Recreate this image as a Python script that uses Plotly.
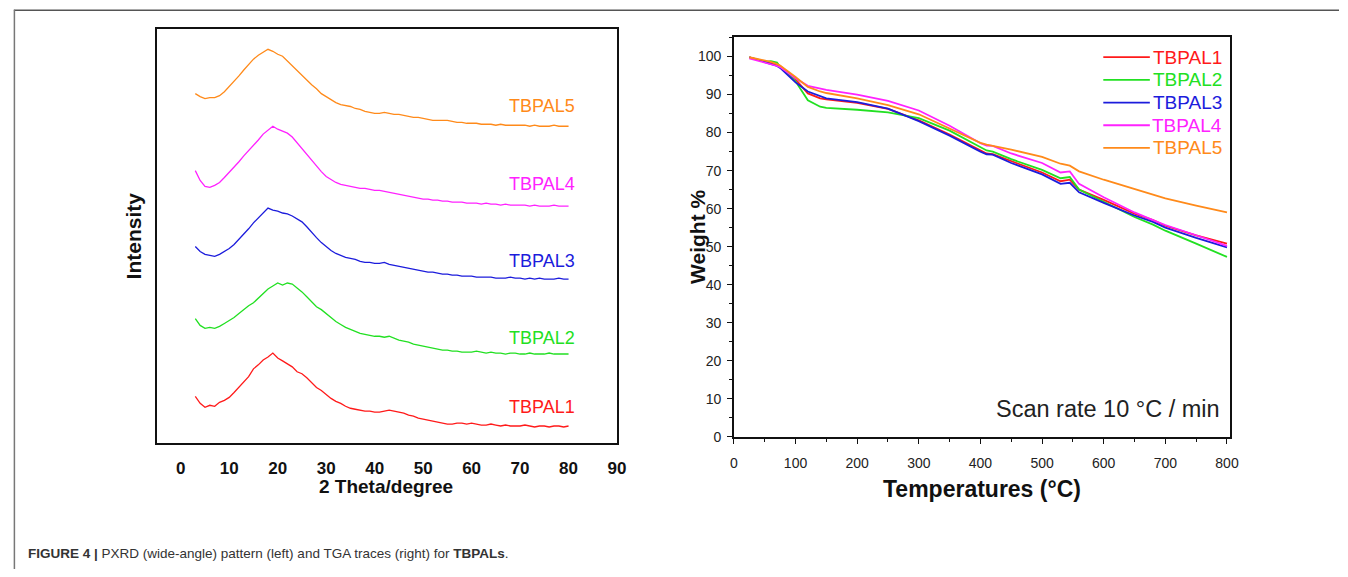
import plotly.graph_objects as go

W, H = 1348, 577
FONT = "Arial, Liberation Sans, Helvetica, sans-serif"

# ---------------- PXRD data (left) ----------------
theta = list(range(3, 81))
pxrd_names = ["TBPAL1", "TBPAL2", "TBPAL3", "TBPAL4", "TBPAL5"]
pxrd_colors = ["#ff1a1a", "#22e022", "#1c1cdc", "#ff22ff", "#ff8a1a"]
pxrd_offsets = [0, 75, 150, 225, 300]

tbpal1_int = [47,40,36,38,37,41,43,46,51,56,62,67,75,79,84,87,91,86,83,80,77,72,70,66,61,56,53,49,45,42,40,37,35,34,33,32,32,31,31,32,33,32,31,30,28,27,25,24,23,22,21,20,19,19,20,20,19,20,19,18,18,19,18,17,18,17,17,17,18,17,16,17,17,16,17,17,16,17]
tbpal2_int = [51,44,41,42,41,43,46,49,52,56,60,64,67,72,76,81,84,87,85,87,86,82,78,73,68,63,60,56,52,48,45,42,40,38,36,35,34,33,33,32,33,31,29,28,27,25,24,23,22,21,20,19,19,18,18,17,17,17,18,17,16,17,16,16,15,16,16,15,15,16,15,15,15,16,15,15,15,15]
tbpal3_int = [49,44,41,40,39,41,44,47,51,56,61,67,73,78,83,88,86,85,83,82,80,77,74,69,63,58,53,49,45,42,40,38,37,36,34,33,33,32,32,33,31,30,29,28,27,26,25,24,23,23,22,21,21,20,20,19,19,19,18,18,18,18,17,17,17,18,17,17,16,17,16,17,16,16,16,17,16,16]
tbpal4_int = [51,41,35,34,36,39,44,49,54,60,66,71,76,82,88,92,96,93,91,89,85,79,74,68,62,56,50,45,42,39,37,36,35,34,33,33,32,31,31,30,29,28,27,26,25,24,23,22,22,21,21,20,20,19,19,19,18,18,18,17,18,17,17,16,17,16,16,16,16,15,16,15,15,15,16,15,15,15]
tbpal5_int = [54,51,49,50,50,52,56,61,66,72,78,84,89,93,96,99,97,94,92,87,82,77,73,68,63,59,54,51,48,45,43,42,41,39,38,36,35,34,34,35,34,33,33,32,31,30,30,29,28,27,27,27,27,26,25,25,24,24,24,23,23,23,22,23,22,22,22,22,22,21,22,21,21,21,22,21,21,21]
pxrd_series = [tbpal1_int, tbpal2_int, tbpal3_int, tbpal4_int, tbpal5_int]
pxrd_label_lift = [36, 31, 34, 37, 42]

# ---------------- TGA data (right) ----------------
tga_temp = [25, 50, 60, 70, 75, 100, 120, 140, 150, 200, 250, 300, 350, 400, 410, 420,
            450, 500, 530, 545, 560, 600, 650, 680, 700, 750, 800]
tga_tbpal1 = [99.8, 98.8, 98.3, 97.8, 97.5, 94.0, 90.3, 89.0, 88.7, 87.8, 86.2, 83.2, 79.5, 75.3, 74.5, 74.3,
              72.5, 69.5, 67.2, 67.6, 65.0, 62.3, 58.7, 57.0, 55.5, 53.0, 50.8]
tga_tbpal2 = [99.8, 98.6, 98.8, 98.4, 97.3, 93.5, 88.5, 86.8, 86.5, 86.0, 85.3, 83.8, 80.5, 76.2, 75.3, 75.0,
              73.0, 70.2, 68.0, 68.3, 65.0, 61.8, 57.8, 55.8, 54.2, 50.8, 47.3]
tga_tbpal3 = [99.8, 98.6, 98.0, 97.5, 97.0, 93.2, 90.8, 89.5, 89.0, 88.0, 86.3, 83.0, 79.2, 75.0, 74.3, 74.2,
              72.0, 69.0, 66.5, 66.8, 64.3, 61.5, 58.2, 56.5, 55.0, 52.3, 49.8]
tga_tbpal4 = [99.5, 98.5, 98.0, 97.5, 97.2, 94.3, 92.3, 91.5, 91.2, 90.0, 88.3, 85.8, 81.8, 77.2, 76.6, 76.5,
              74.5, 72.0, 69.5, 69.8, 66.5, 63.0, 59.0, 57.0, 55.7, 53.0, 50.2]
tga_tbpal5 = [99.8, 99.0, 98.6, 98.0, 97.6, 94.6, 92.0, 90.8, 90.4, 89.0, 87.2, 84.8, 81.0, 77.3, 76.8, 76.5,
              75.5, 73.6, 71.8, 71.3, 69.8, 67.6, 65.2, 63.8, 62.7, 60.8, 59.0]
tga_series = [tga_tbpal1, tga_tbpal2, tga_tbpal3, tga_tbpal4, tga_tbpal5]
tga_colors = ["#ff1a1a", "#22e022", "#1c1cdc", "#ff22ff", "#ff8a1a"]

x_ticks_left = [0, 10, 20, 30, 40, 50, 60, 70, 80, 90]
x_ticks_right = [0, 100, 200, 300, 400, 500, 600, 700, 800]
y_ticks_right = [0, 10, 20, 30, 40, 50, 60, 70, 80, 90, 100]


def px_x(p):
    return p / W


def px_y(p):
    return 1 - p / H


fig = go.Figure()

for name, color, off, vals in zip(pxrd_names, pxrd_colors, pxrd_offsets, pxrd_series):
    fig.add_trace(go.Scatter(x=theta, y=[v + off for v in vals], mode="lines",
                             line=dict(color=color, width=1.3), showlegend=False,
                             xaxis="x", yaxis="y", name=name))

for name, color, vals in zip(pxrd_names, tga_colors, tga_series):
    fig.add_trace(go.Scatter(x=tga_temp, y=vals, mode="lines",
                             line=dict(color=color, width=1.8), showlegend=False,
                             name=name, xaxis="x2", yaxis="y2"))

annotations = []
shapes = []
for name, color, off, lift in zip(pxrd_names, pxrd_colors, pxrd_offsets, pxrd_label_lift):
    annotations.append(dict(x=74.6, y=off + lift, xref="x", yref="y", text=name,
                            showarrow=False, font=dict(family=FONT, size=18, color=color),
                            xanchor="center", yanchor="middle"))

# legend of the TGA panel (key line + coloured name)
for i, (name, color) in enumerate(zip(pxrd_names, tga_colors)):
    ypix = 58 + 23 * i
    shapes.append(dict(type="line", xref="paper", yref="paper", x0=px_x(1110), x1=px_x(1157),
                       y0=px_y(ypix), y1=px_y(ypix), line=dict(color=color, width=1.8)))
    annotations.append(dict(x=px_x(1232), y=px_y(ypix), xref="paper", yref="paper", text=name,
                            showarrow=False, font=dict(family=FONT, size=19, color=color),
                            xanchor="right", yanchor="middle"))

annotations += [
    dict(x=px_x(386), y=px_y(493), xref="paper", yref="paper", text="<b>2 Theta/degree</b>",
         showarrow=False, font=dict(family=FONT, size=19, color="#111"), xanchor="center", yanchor="middle"),
    dict(x=px_x(131), y=px_y(239), xref="paper", yref="paper", text="<b>Intensity</b>", textangle=-90,
         showarrow=False, font=dict(family=FONT, size=21, color="#111"), xanchor="center", yanchor="middle"),
    dict(x=px_x(988), y=px_y(496), xref="paper", yref="paper", text="<b>Temperatures (°C)</b>",
         showarrow=False, font=dict(family=FONT, size=23, color="#111"), xanchor="center", yanchor="middle"),
    dict(x=px_x(700), y=px_y(240), xref="paper", yref="paper", text="<b>Weight %</b>", textangle=-90,
         showarrow=False, font=dict(family=FONT, size=21, color="#111"), xanchor="center", yanchor="middle"),
    dict(x=px_x(1230), y=px_y(415), xref="paper", yref="paper", text="Scan rate 10 °C / min",
         showarrow=False, font=dict(family=FONT, size=23.5, color="#222"), xanchor="right", yanchor="middle"),
    dict(x=px_x(22), y=px_y(561), xref="paper", yref="paper",
         text="<b>FIGURE 4 |</b> PXRD (wide-angle) pattern (left) and TGA traces (right) for <b>TBPALs</b>.",
         showarrow=False, font=dict(family=FONT, size=13.5, color="#333"), xanchor="left", yanchor="middle"),
]

shapes += [
    dict(type="line", xref="paper", yref="paper", x0=px_x(10), x1=1, y0=px_y(10.5), y1=px_y(10.5),
         line=dict(color="#555", width=1.5)),
    dict(type="line", xref="paper", yref="paper", x0=px_x(10.5), x1=px_x(10.5), y0=px_y(10), y1=0,
         line=dict(color="#777", width=1.5)),
]

axis_common = dict(showgrid=False, zeroline=False, showline=True, linecolor="#111",
                   linewidth=1.5, mirror=True)

fig.update_layout(
    width=W, height=H,
    margin=dict(l=0, r=0, t=0, b=0),
    paper_bgcolor="white", plot_bgcolor="white",
    font=dict(family=FONT, color="#222"),
    showlegend=False,
    xaxis=dict(domain=[px_x(154), px_x(619)], range=[-5, 90], tickvals=x_ticks_left,
               ticks="", ticklabelstandoff=9, anchor="y",
               tickfont=dict(family=FONT, size=17, color="#111", weight="bold"), **axis_common),
    yaxis=dict(domain=[px_y(449), px_y(29)], range=[0, 420], showticklabels=False, ticks="",
               anchor="x", **axis_common),
    xaxis2=dict(domain=[px_x(737), px_x(1238)], range=[0, 805], tickvals=x_ticks_right,
                ticks="outside", ticklen=5, tickwidth=1.2, tickcolor="#111", ticklabelstandoff=8,
                minor=dict(dtick=50, ticks="outside", ticklen=3, tickcolor="#111", tickwidth=1),
                tickfont=dict(family=FONT, size=14, color="#222"), anchor="y2", **axis_common),
    yaxis2=dict(domain=[px_y(443), px_y(38)], range=[0, 105], tickvals=y_ticks_right,
                ticks="outside", ticklen=5, tickwidth=1.2, tickcolor="#111", ticklabelstandoff=3,
                minor=dict(dtick=5, ticks="outside", ticklen=3, tickcolor="#111", tickwidth=1),
                tickfont=dict(family=FONT, size=14, color="#222"), anchor="x2", **axis_common),
    annotations=annotations,
    shapes=shapes,
)

# remove the default 8px page margin so the figure sits at the window origin
fig.write_html("out.html", config={"displayModeBar": False},
               post_script="document.body.style.margin='0';document.body.style.overflow='hidden';")
